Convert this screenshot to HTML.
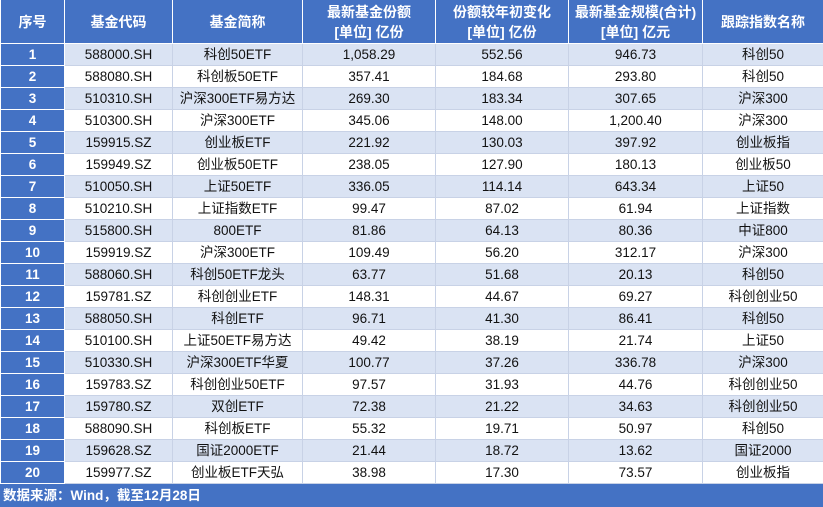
<!DOCTYPE html>
<html><head><meta charset="utf-8"><style>
body{margin:0;width:823px;height:507px;overflow:hidden;background:#fff;font-family:"Liberation Sans","Noto Sans CJK SC",sans-serif;}
table{border-collapse:collapse;table-layout:fixed;position:absolute;left:0;top:0;width:823px;}
td,th{padding:0;text-align:center;font-size:13.5px;color:#111;border:1px solid #c8d2e6;overflow:hidden;white-space:nowrap;}
th{background:#4472c4;color:#fff;height:43px;font-weight:bold;line-height:20px;border-color:#fff;border-top:none;font-size:14px;}
td{height:21px;line-height:21px;}
tr.o td{background:#dae3f3;}
td.n{background:#4472c4 !important;color:#fff;font-weight:bold;border-color:#fff;}
.f{position:absolute;left:0;top:484px;width:823px;height:23px;background:#4472c4;color:#fff;font-weight:bold;font-size:13.5px;line-height:23px;padding-left:3px;box-sizing:border-box;}
</style></head><body>
<table>
<colgroup><col style="width:64px"><col style="width:108px"><col style="width:130px"><col style="width:133px"><col style="width:133px"><col style="width:134px"><col style="width:121px"></colgroup>
<tr><th>序号</th><th>基金代码</th><th>基金简称</th><th>最新基金份额<br>[单位] 亿份</th><th>份额较年初变化<br>[单位] 亿份</th><th>最新基金规模(合计)<br>[单位] 亿元</th><th>跟踪指数名称</th></tr>
<tr class="o"><td class="n">1</td><td>588000.SH</td><td>科创50ETF</td><td>1,058.29</td><td>552.56</td><td>946.73</td><td>科创50</td></tr>
<tr><td class="n">2</td><td>588080.SH</td><td>科创板50ETF</td><td>357.41</td><td>184.68</td><td>293.80</td><td>科创50</td></tr>
<tr class="o"><td class="n">3</td><td>510310.SH</td><td>沪深300ETF易方达</td><td>269.30</td><td>183.34</td><td>307.65</td><td>沪深300</td></tr>
<tr><td class="n">4</td><td>510300.SH</td><td>沪深300ETF</td><td>345.06</td><td>148.00</td><td>1,200.40</td><td>沪深300</td></tr>
<tr class="o"><td class="n">5</td><td>159915.SZ</td><td>创业板ETF</td><td>221.92</td><td>130.03</td><td>397.92</td><td>创业板指</td></tr>
<tr><td class="n">6</td><td>159949.SZ</td><td>创业板50ETF</td><td>238.05</td><td>127.90</td><td>180.13</td><td>创业板50</td></tr>
<tr class="o"><td class="n">7</td><td>510050.SH</td><td>上证50ETF</td><td>336.05</td><td>114.14</td><td>643.34</td><td>上证50</td></tr>
<tr><td class="n">8</td><td>510210.SH</td><td>上证指数ETF</td><td>99.47</td><td>87.02</td><td>61.94</td><td>上证指数</td></tr>
<tr class="o"><td class="n">9</td><td>515800.SH</td><td>800ETF</td><td>81.86</td><td>64.13</td><td>80.36</td><td>中证800</td></tr>
<tr><td class="n">10</td><td>159919.SZ</td><td>沪深300ETF</td><td>109.49</td><td>56.20</td><td>312.17</td><td>沪深300</td></tr>
<tr class="o"><td class="n">11</td><td>588060.SH</td><td>科创50ETF龙头</td><td>63.77</td><td>51.68</td><td>20.13</td><td>科创50</td></tr>
<tr><td class="n">12</td><td>159781.SZ</td><td>科创创业ETF</td><td>148.31</td><td>44.67</td><td>69.27</td><td>科创创业50</td></tr>
<tr class="o"><td class="n">13</td><td>588050.SH</td><td>科创ETF</td><td>96.71</td><td>41.30</td><td>86.41</td><td>科创50</td></tr>
<tr><td class="n">14</td><td>510100.SH</td><td>上证50ETF易方达</td><td>49.42</td><td>38.19</td><td>21.74</td><td>上证50</td></tr>
<tr class="o"><td class="n">15</td><td>510330.SH</td><td>沪深300ETF华夏</td><td>100.77</td><td>37.26</td><td>336.78</td><td>沪深300</td></tr>
<tr><td class="n">16</td><td>159783.SZ</td><td>科创创业50ETF</td><td>97.57</td><td>31.93</td><td>44.76</td><td>科创创业50</td></tr>
<tr class="o"><td class="n">17</td><td>159780.SZ</td><td>双创ETF</td><td>72.38</td><td>21.22</td><td>34.63</td><td>科创创业50</td></tr>
<tr><td class="n">18</td><td>588090.SH</td><td>科创板ETF</td><td>55.32</td><td>19.71</td><td>50.97</td><td>科创50</td></tr>
<tr class="o"><td class="n">19</td><td>159628.SZ</td><td>国证2000ETF</td><td>21.44</td><td>18.72</td><td>13.62</td><td>国证2000</td></tr>
<tr><td class="n">20</td><td>159977.SZ</td><td>创业板ETF天弘</td><td>38.98</td><td>17.30</td><td>73.57</td><td>创业板指</td></tr>
</table>
<div class="f">数据来源：Wind，截至12月28日</div>
</body></html>
